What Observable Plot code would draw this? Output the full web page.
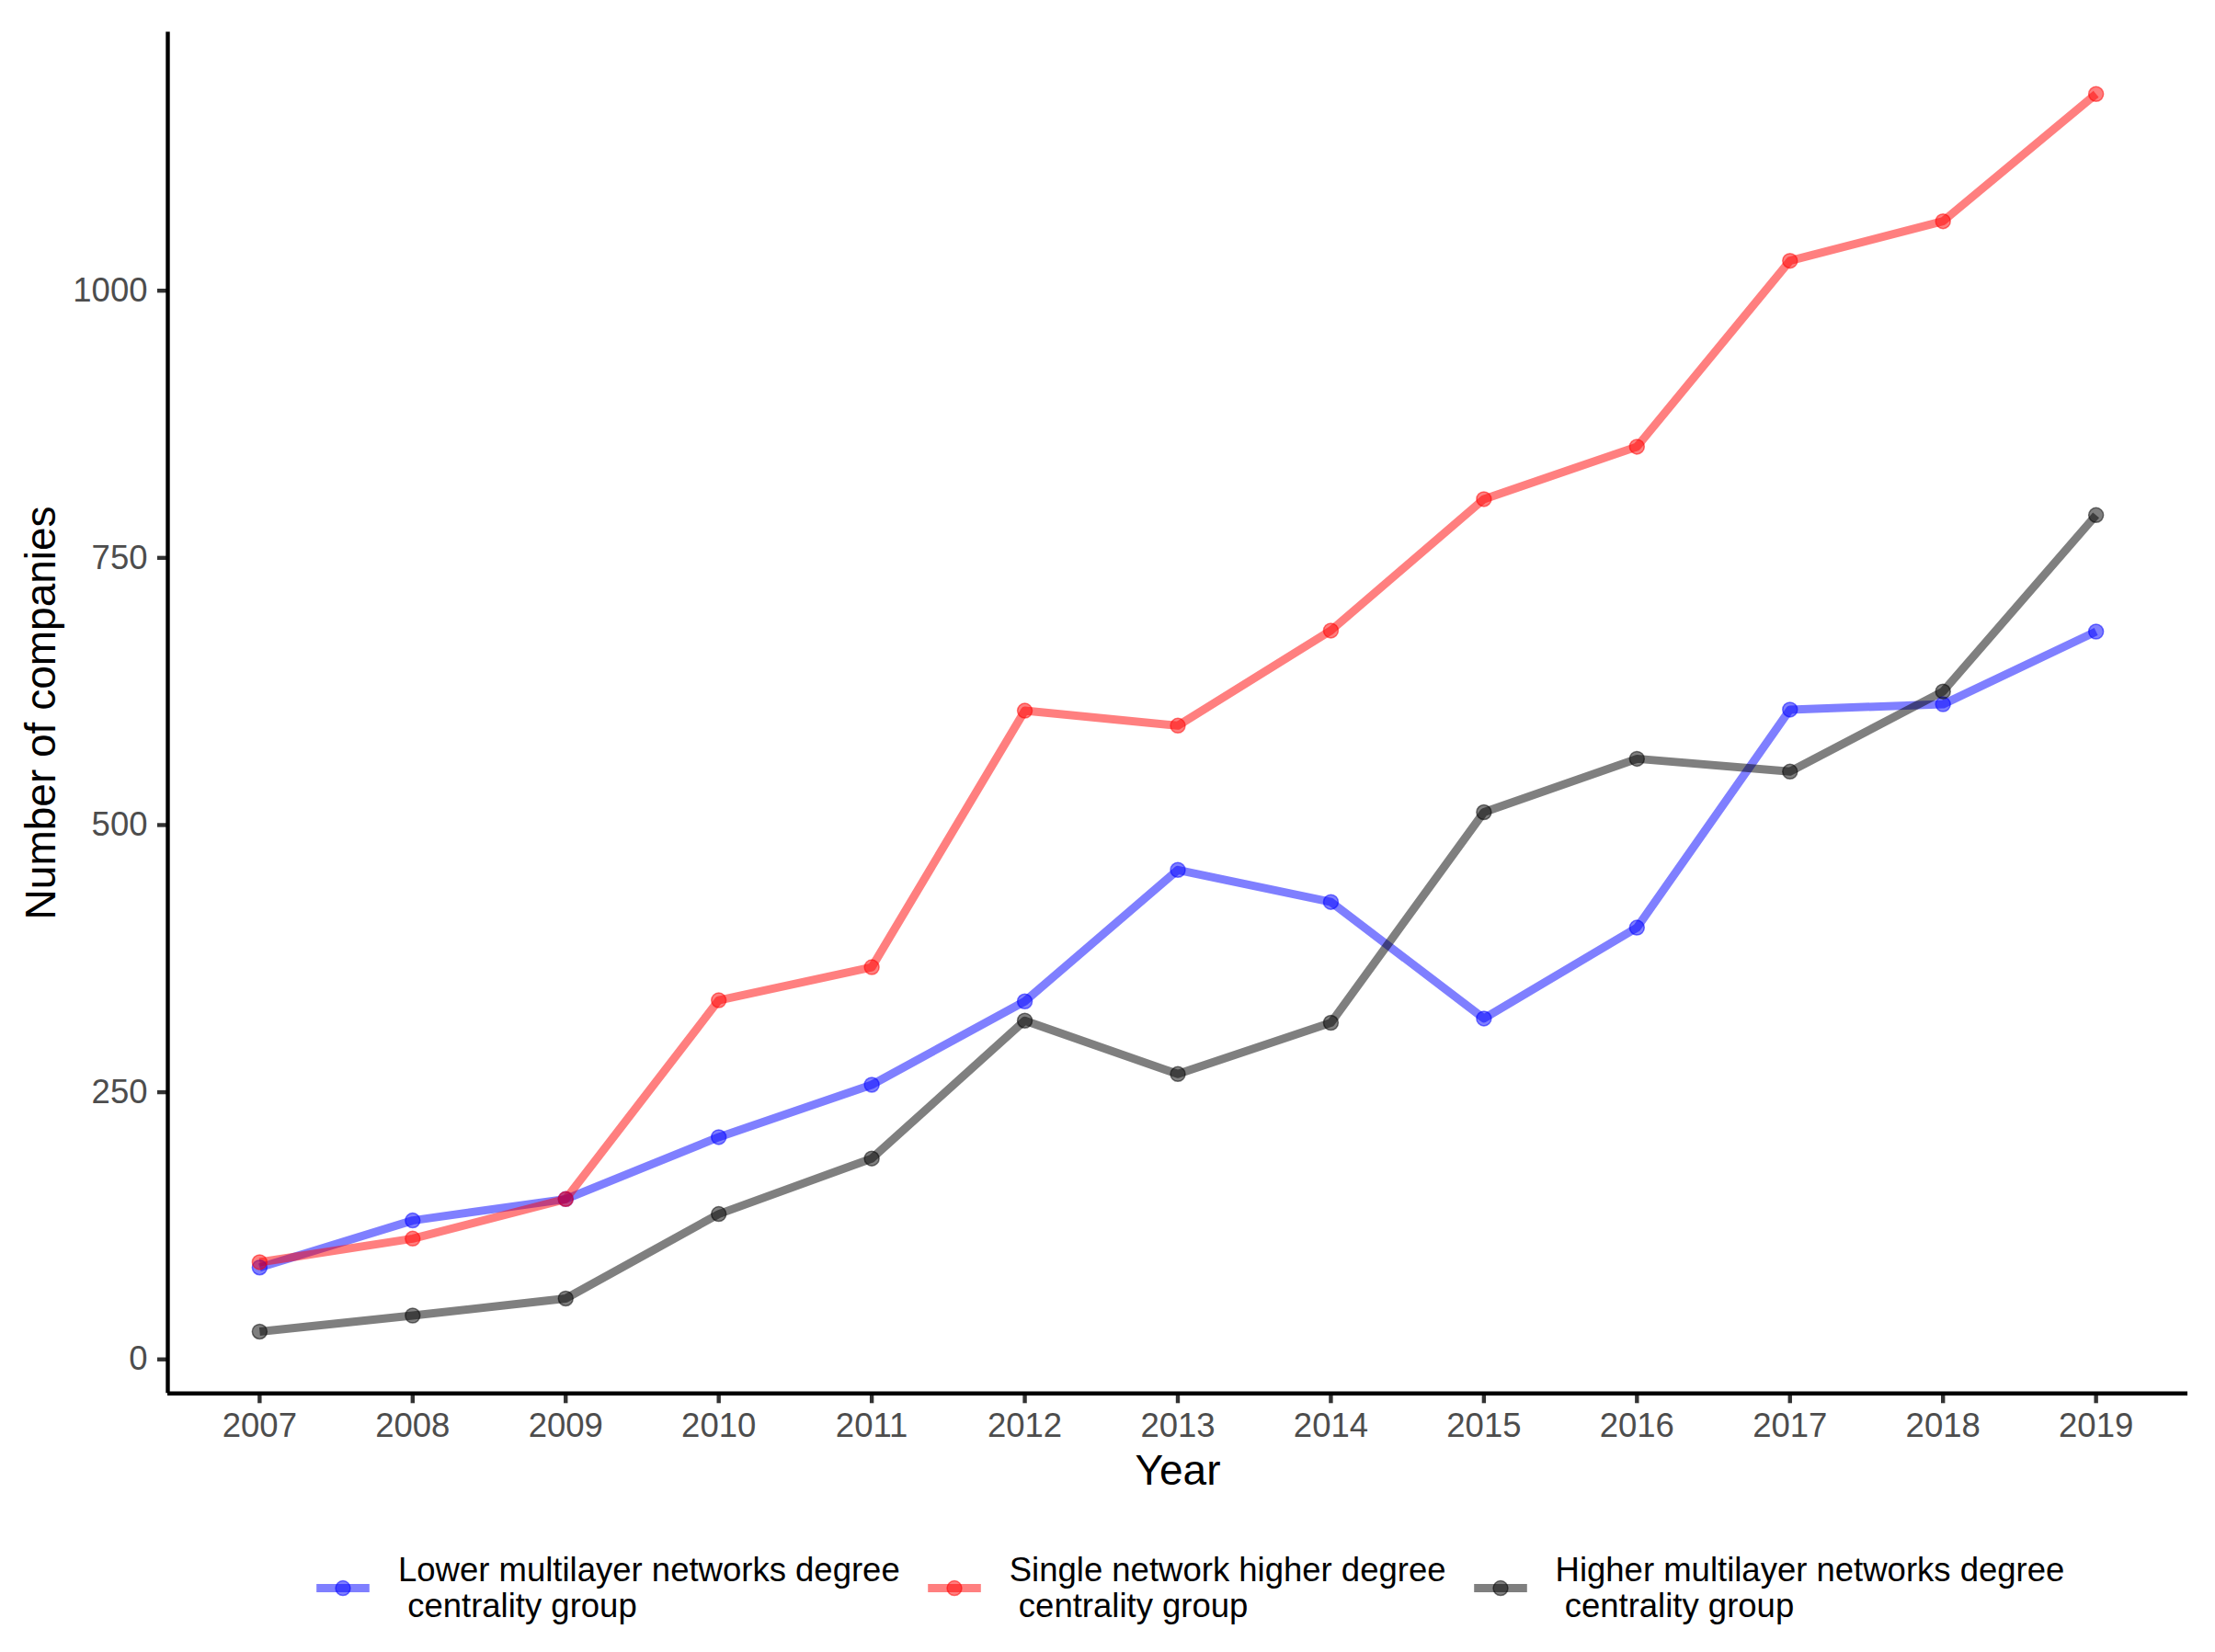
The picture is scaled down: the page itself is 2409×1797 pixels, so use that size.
<!DOCTYPE html>
<html>
<head>
<meta charset="utf-8">
<script src="https://cdn.jsdelivr.net/npm/d3@7"></script>
<script src="https://cdn.jsdelivr.net/npm/@observablehq/plot@0.6"></script>
<style>
  body { margin: 0; background: #fff; }
  #wrap { position: relative; width: 2409px; height: 1797px; background: #fff; font-family: "Liberation Sans", Arial, sans-serif; overflow: hidden; }
  #wrap svg.chart { display: block; }
  #legend { position: absolute; left: 337px; top: 1689px; height: 77.2px; display: flex; align-items: center; }
  .item { display: flex; align-items: center; }
  .key { flex: none; display: block; }
  .lab { font-size: 36.5px; line-height: 38.6px; white-space: pre; margin-left: 24px; margin-right: 23px; color: #000; }
</style>
</head>
<body>
<div id="wrap"></div>
<script>
// ---- data ----
const years = [2007, 2008, 2009, 2010, 2011, 2012, 2013, 2014, 2015, 2016, 2017, 2018, 2019];
const lowerMultilayer = [86, 130, 150, 208, 257, 335, 458, 428, 319, 404, 608, 613, 681];
const singleNetwork   = [91, 113, 150, 336, 367, 607, 593, 682, 805, 854, 1028, 1065, 1184];
const higherMultilayer = [26, 41, 57, 136, 188, 317, 267, 315, 512, 562, 550, 625, 790];
const groupNames = [
  "Lower multilayer networks degree\n centrality group",
  "Single network higher degree\n centrality group",
  "Higher multilayer networks degree\n centrality group"
];
const groupColors = ["#0000FF", "#FF0000", "#000000"];
const xTicks = years;
const yTicks = [0, 250, 500, 750, 1000];
const xLabel = "Year";
const yLabel = "Number of companies";

// ---- table ----
const seriesValues = [lowerMultilayer, singleNetwork, higherMultilayer];
const rows = [];
groupNames.forEach((g, gi) => years.forEach((yr, i) => rows.push({year: yr, value: seriesValues[gi][i], group: g})));

// ggplot-like 5% expansion
const expand = (lo, hi) => { const p = (hi - lo) * 0.05; return [lo - p, hi + p]; };
const xDomain = expand(d3.min(years), d3.max(years));
const yDomain = expand(d3.min(rows, d => d.value), d3.max(rows, d => d.value));

const W = 2409, H = 1650;
const chart = Plot.plot({
  width: W,
  height: H,
  marginLeft: 182,
  marginRight: 30,
  marginTop: 34.5,
  marginBottom: H - 1515.3,
  style: { fontFamily: "Liberation Sans, Arial, sans-serif", background: "white", overflow: "visible" },
  x: { type: "linear", domain: xDomain, axis: null },
  y: { type: "linear", domain: yDomain, axis: null },
  color: { domain: groupNames, range: groupColors },
  marks: [
    Plot.axisX({ ticks: xTicks, tickSize: 11, tickPadding: 10, tickFormat: d => String(d), fontSize: 36.5, fill: "#4D4D4D", stroke: "#333333", strokeWidth: 4.4, label: null }),
    Plot.axisY({ ticks: yTicks, tickSize: 11, tickPadding: 11, tickFormat: d => String(d), fontSize: 36.5, fill: "#4D4D4D", stroke: "#333333", strokeWidth: 4.4, label: null }),
    Plot.ruleX([xDomain[0]], { stroke: "black", strokeWidth: 4.4 }),
    Plot.ruleY([yDomain[0]], { stroke: "black", strokeWidth: 4.4 }),
    Plot.line(rows, { x: "year", y: "value", z: "group", stroke: "group", strokeWidth: 9, strokeOpacity: 0.5, strokeLinejoin: "round", strokeLinecap: "butt" }),
    Plot.dot(rows, { x: "year", y: "value", fill: "group", stroke: "group", r: 8, fillOpacity: 0.5, strokeOpacity: 0.5, strokeWidth: 1.5 }),
    Plot.text([xLabel], { text: d => d, frameAnchor: "bottom", textAnchor: "middle", lineAnchor: "middle", dy: 84, fontSize: 46, fill: "black" }),
    Plot.text([yLabel], { text: d => d, frameAnchor: "left", textAnchor: "middle", lineAnchor: "middle", rotate: -90, dx: -137, fontSize: 46, fill: "black" })
  ]
});
chart.classList.add("chart");
const wrap = document.getElementById("wrap");
wrap.appendChild(chart);

// ---- legend ----
const legend = document.createElement("div");
legend.id = "legend";
const NS = "http://www.w3.org/2000/svg";
groupNames.forEach((g, i) => {
  const item = document.createElement("div");
  item.className = "item";
  const svg = document.createElementNS(NS, "svg");
  svg.setAttribute("class", "key");
  svg.setAttribute("width", 72);
  svg.setAttribute("height", 77.2);
  const ln = document.createElementNS(NS, "line");
  ln.setAttribute("x1", 7.2); ln.setAttribute("x2", 64.8);
  ln.setAttribute("y1", 38.6); ln.setAttribute("y2", 38.6);
  ln.setAttribute("stroke", groupColors[i]);
  ln.setAttribute("stroke-opacity", 0.5);
  ln.setAttribute("stroke-width", 9);
  svg.appendChild(ln);
  const c = document.createElementNS(NS, "circle");
  c.setAttribute("cx", 36); c.setAttribute("cy", 38.6); c.setAttribute("r", 8);
  c.setAttribute("fill", groupColors[i]); c.setAttribute("fill-opacity", 0.5);
  c.setAttribute("stroke", groupColors[i]); c.setAttribute("stroke-opacity", 0.5);
  c.setAttribute("stroke-width", 1.5);
  svg.appendChild(c);
  item.appendChild(svg);
  const lab = document.createElement("div");
  lab.className = "lab";
  lab.textContent = g;
  item.appendChild(lab);
  legend.appendChild(item);
});
wrap.appendChild(legend);
</script>
</body>
</html>
